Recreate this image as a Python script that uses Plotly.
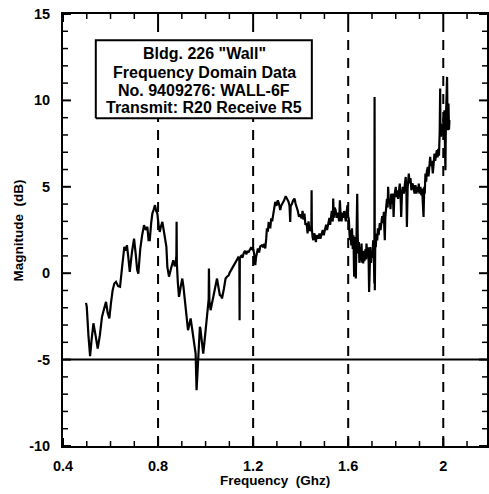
import plotly.graph_objects as go

# Swept-frequency magnitude response through the wall (GHz, dB)
freq_ghz = [
    0.497, 0.500, 0.507, 0.514, 0.520, 0.528, 0.537, 0.546, 0.555, 0.564,
    0.572, 0.581, 0.588, 0.595, 0.602, 0.609, 0.616, 0.623, 0.632, 0.640,
    0.649, 0.658, 0.664, 0.669, 0.675, 0.681, 0.690, 0.699, 0.706, 0.712,
    0.717, 0.725, 0.733, 0.741, 0.748, 0.755, 0.760, 0.765, 0.771, 0.776,
    0.782, 0.787, 0.792, 0.797, 0.802, 0.807, 0.812, 0.818, 0.826, 0.835,
    0.839, 0.846, 0.855, 0.864, 0.870, 0.874, 0.877, 0.878, 0.879, 0.883,
    0.888, 0.895, 0.902, 0.907, 0.912, 0.919, 0.926, 0.931, 0.937, 0.942,
    0.948, 0.953, 0.958, 0.962, 0.964, 0.967, 0.971, 0.976, 0.978, 0.981,
    0.985, 0.990, 0.995, 1.000, 1.007, 1.013, 1.014, 1.016, 1.021, 1.028,
    1.035, 1.041, 1.048, 1.054, 1.060, 1.065, 1.069, 1.077, 1.084, 1.090,
    1.097, 1.102, 1.107, 1.113, 1.118, 1.125, 1.132, 1.137, 1.142, 1.143,
    1.144, 1.150, 1.155, 1.160, 1.166, 1.171, 1.176, 1.181, 1.186, 1.190,
    1.195, 1.199, 1.204, 1.207, 1.209, 1.212, 1.216, 1.220, 1.225, 1.230,
    1.237, 1.243, 1.247, 1.251, 1.255, 1.258, 1.262, 1.265, 1.268, 1.272,
    1.276, 1.280, 1.284, 1.289, 1.293, 1.298, 1.304, 1.309, 1.314, 1.318,
    1.324, 1.330, 1.337, 1.343, 1.349, 1.353, 1.356, 1.358, 1.363, 1.368,
    1.374, 1.379, 1.383, 1.388, 1.393, 1.398, 1.404, 1.408, 1.412, 1.416,
    1.420, 1.425, 1.429, 1.433, 1.437, 1.440, 1.445, 1.446, 1.447, 1.450,
    1.453, 1.457, 1.460, 1.464, 1.468, 1.474, 1.479, 1.483, 1.488, 1.493,
    1.497, 1.502, 1.507, 1.511, 1.516, 1.521, 1.524, 1.527, 1.531, 1.535,
    1.537, 1.539, 1.543, 1.547, 1.551, 1.555, 1.558, 1.562, 1.565, 1.568,
    1.572, 1.576, 1.580, 1.583, 1.586, 1.590, 1.594, 1.597, 1.600, 1.603,
    1.605, 1.607, 1.610, 1.613, 1.616, 1.619, 1.622, 1.625, 1.627, 1.628,
    1.631, 1.632, 1.634, 1.635, 1.638, 1.640, 1.642, 1.645, 1.647, 1.649,
    1.652, 1.654, 1.656, 1.659, 1.661, 1.663, 1.666, 1.668, 1.670, 1.673,
    1.675, 1.677, 1.680, 1.683, 1.686, 1.688, 1.690, 1.693, 1.696, 1.699,
    1.702, 1.705, 1.708, 1.710, 1.711, 1.712, 1.714, 1.716, 1.719, 1.722,
    1.725, 1.728, 1.730, 1.733, 1.736, 1.740, 1.743, 1.746, 1.750, 1.752,
    1.754, 1.756, 1.760, 1.763, 1.766, 1.768, 1.771, 1.775, 1.778, 1.781,
    1.783, 1.786, 1.789, 1.791, 1.794, 1.797, 1.800, 1.803, 1.806, 1.810,
    1.813, 1.817, 1.820, 1.823, 1.826, 1.830, 1.834, 1.838, 1.842, 1.845,
    1.847, 1.850, 1.853, 1.855, 1.858, 1.862, 1.866, 1.870, 1.875, 1.879,
    1.883, 1.887, 1.891, 1.894, 1.897, 1.900, 1.904, 1.908, 1.911, 1.914,
    1.917, 1.920, 1.922, 1.925, 1.928, 1.931, 1.935, 1.938, 1.942, 1.945,
    1.948, 1.952, 1.956, 1.959, 1.963, 1.966, 1.970, 1.973, 1.976, 1.979,
    1.982, 1.985, 1.987, 1.988, 1.990, 1.992, 1.995, 1.998, 2.001, 2.003,
    2.005, 2.007, 2.009, 2.011, 2.013, 2.015, 2.016, 2.018, 2.020, 2.022,
    2.024, 2.026,
]
magnitude_db = [
    -1.72, -1.95, -3.6, -4.80, -3.9, -2.90, -3.6, -4.36, -3.6, -2.53,
    -2.1, -1.66, -2.3, -2.62, -1.7, -0.98, -0.6, -0.50, -0.75, -0.79,
    0.4, 1.52, 1.3, 1.62, 0.9, 0.08, 1.2, 2.00, 1.1, 0.2,
    -0.02, 1.4, 2.2, 2.78, 2.5, 2.68, 1.91, 1.91, 2.9, 3.45,
    3.7, 3.94, 3.6, 3.45, 2.8, 2.39, 2.7, 2.97, 2.3, 1.52,
    0.37, -0.20, 0.3, 0.75, 0.4, 0.56, 1.0, 2.97, 0.6, -0.5,
    -1.37, -0.8, -0.31, -0.8, -1.46, -2.4, -3.30, -3.0, -2.62, -3.1,
    -3.68, -4.2, -4.65, -6.77, -6.2, -5.61, -4.4, -3.10, -3.2, -3.68,
    -4.3, -4.65, -4.0, -3.30, -2.2, -1.5, 0.27, -1.6, -2.14, -1.7,
    -1.27, -0.8, -0.31, -0.8, -1.27, -1.3, -1.46, -0.9, -0.31, -0.2,
    -0.12, 0.05, 0.17, 0.3, 0.46, 0.6, 0.75, 0.9, 0.8, -2.72,
    0.9, 1.0, 0.9, 1.14, 1.3, 1.1, 1.25, 1.23, 1.33, 1.45,
    1.4, 1.52, 1.14, 0.7, 0.46, 0.9, 1.3, 1.43, 1.2, 1.55,
    1.62, 1.5, 1.7, 1.43, 2.0, 2.59, 2.4, 2.9, 2.88, 2.6,
    3.17, 3.0, 3.4, 3.9, 4.13, 3.9, 4.22, 4.0, 3.65, 3.9,
    4.03, 4.2, 4.46, 4.3, 4.13, 3.9, 2.97, 3.9, 4.0, 4.2,
    4.32, 4.0, 3.84, 3.6, 3.26, 3.4, 3.17, 3.6, 3.1, 3.45,
    2.8, 2.88, 2.3, 3.0, 2.5, 2.49, 2.7, 4.80, 2.6, 2.1,
    1.91, 2.3, 2.20, 1.8, 2.2, 2.00, 2.3, 2.0, 2.20, 2.5,
    2.2, 2.49, 2.8, 2.5, 2.88, 3.2, 2.8, 3.07, 3.6, 3.0,
    4.32, 3.2, 3.8, 3.65, 3.2, 3.5, 3.36, 3.0, 4.22, 3.4,
    3.0, 3.5, 3.2, 3.6, 3.36, 3.0, 3.6, 3.94, 3.3, 3.07,
    2.4, 1.91, 2.5, 1.6, 2.6, 1.4, 2.2, -0.21, 2.1, 1.91,
    1.2, -0.31, 2.0, 3.26, 4.6, 2.2, 1.14, 1.8, 0.6, 0.75,
    1.5, 0.9, 1.72, 0.6, 1.2, 0.56, 1.3, 0.7, 0.94, 1.4,
    0.8, 1.72, 0.9, 1.5, 0.7, -1.08, 0.8, 1.52, 0.6, 1.2,
    0.9, 1.91, 1.0, -0.6, 10.2, -0.98, 2.0, 1.5, 2.30, 1.9,
    2.6, 2.2, 2.49, 2.9, 2.5, 3.07, 3.3, 2.9, 3.55, 2.6,
    1.91, 3.2, 3.84, 4.3, 3.8, 5.0, 4.1, 4.22, 3.7, 4.6,
    4.0, 4.61, 4.2, 3.26, 4.4, 4.7, 5.0, 4.4, 4.8, 4.3,
    4.9, 5.19, 4.6, 3.26, 4.5, 5.0, 4.6, 5.3, 5.57, 4.6,
    2.68, 4.9, 5.4, 5.77, 5.2, 5.5, 4.8, 5.2, 5.00, 4.6,
    5.1, 4.6, 5.0, 4.7, 5.19, 4.6, 5.0, 4.5, 4.9, 4.2,
    3.26, 5.0, 4.6, 5.77, 5.3, 5.9, 6.15, 5.6, 6.4, 6.73,
    6.2, 6.5, 5.77, 6.6, 6.92, 6.5, 7.0, 7.12, 6.7, 7.2,
    6.8, 8.2, 10.69, 8.4, 8.66, 7.9, 8.5, 8.0, 9.0, 8.3,
    9.43, 7.5, 5.96, 8.8, 9.5, 10.0, 11.36, 8.8, 8.27, 9.82,
    8.3, 8.85,
]

x_tick_vals = [0.4, 0.8, 1.2, 1.6, 2.0]
x_tick_text = ["0.4", "0.8", "1.2", "1.6", "2"]
y_tick_vals = [-10, -5, 0, 5, 10, 15]
y_tick_text = ["-10", "-5", "0", "5", "10", "15"]

# Reference markers: dashed frequency markers and the -5 dB level
marker_freqs = [0.8, 1.2, 1.6, 2.0]
reference_level_db = -5

info_lines = [
    'Bldg. 226 "Wall"',
    "Frequency Domain Data",
    "No. 9409276: WALL-6F",
    "Transmit: R20 Receive R5",
]

FONT = "Liberation Sans, Arial, Helvetica, sans-serif"
X_RANGE = [0.4, 2.184]
Y_RANGE = [-10, 15]

# Tick lengths expressed in axis units (about 8 px major, 5 px minor)
X_MAJOR_LEN, X_MINOR_LEN = 0.0335, 0.021
Y_MAJOR_LEN, Y_MINOR_LEN = 0.463, 0.29

x_minor_vals = [round(0.4 + 0.1 * i, 2) for i in range(18)]
x_minor_vals = [v for v in x_minor_vals if v not in x_tick_vals]
y_minor_vals = [v for v in range(-10, 16) if v not in y_tick_vals]


def tick_segments(xvals, yvals, x_len, y_len):
    """Inward tick stubs on all four sides, as one broken polyline."""
    xs, ys = [], []
    for v in xvals:
        xs += [v, v, None, v, v, None]
        ys += [Y_RANGE[0], Y_RANGE[0] + y_len, None, Y_RANGE[1], Y_RANGE[1] - y_len, None]
    for v in yvals:
        xs += [X_RANGE[0], X_RANGE[0] + x_len, None, X_RANGE[1], X_RANGE[1] - x_len, None]
        ys += [v, v, None, v, v, None]
    return xs, ys


fig = go.Figure()

# Dashed frequency markers spanning the full height
for f in marker_freqs:
    fig.add_trace(go.Scatter(
        x=[f, f], y=Y_RANGE, mode="lines",
        line=dict(color="black", width=2, dash="10px,8px"),
        showlegend=False, hoverinfo="skip",
    ))
# Solid -5 dB reference level
fig.add_trace(go.Scatter(
    x=X_RANGE, y=[reference_level_db, reference_level_db], mode="lines",
    line=dict(color="black", width=2), showlegend=False, hoverinfo="skip",
))
# Major and minor tick marks
mx, my = tick_segments(x_tick_vals, y_tick_vals, X_MAJOR_LEN, Y_MAJOR_LEN)
fig.add_trace(go.Scatter(x=mx, y=my, mode="lines", line=dict(color="black", width=2),
                         showlegend=False, hoverinfo="skip"))
nx, ny = tick_segments(x_minor_vals, y_minor_vals, X_MINOR_LEN, Y_MINOR_LEN)
fig.add_trace(go.Scatter(x=nx, y=ny, mode="lines", line=dict(color="black", width=1.5),
                         showlegend=False, hoverinfo="skip"))
# Measured response
fig.add_trace(go.Scatter(
    x=freq_ghz, y=magnitude_db, mode="lines",
    line=dict(color="black", width=2.2),
    showlegend=False, hoverinfo="skip",
))
# Caption box (white fill hides the marker line behind it)
box_x = [0.538, 1.447, 1.447, 0.538, 0.538]
box_y = [8.97, 8.97, 13.48, 13.48, 8.97]
fig.add_trace(go.Scatter(
    x=box_x, y=box_y, mode="lines", fill="toself", fillcolor="white",
    line=dict(color="black", width=2), showlegend=False, hoverinfo="skip",
))

annotations = []
line_y_px = [54, 72, 90, 107]
for text, py in zip(info_lines, line_y_px):
    annotations.append(dict(
        text=text, xref="paper", yref="paper",
        x=0.333, y=(446 - py) / 432, xanchor="center", yanchor="middle",
        showarrow=False,
        font=dict(family=FONT, size=16, color="black", weight="bold"),
    ))
annotations.append(dict(
    text="Magnitude  (dB)", xref="paper", yref="paper",
    x=-0.105, y=0.5, xanchor="center", yanchor="middle", textangle=-90,
    showarrow=False, font=dict(family=FONT, size=13.5, color="black", weight="bold"),
))
annotations.append(dict(
    text="Frequency  (Ghz)", xref="paper", yref="paper",
    x=0.5, y=-0.081, xanchor="center", yanchor="middle",
    showarrow=False, font=dict(family=FONT, size=13.5, color="black", weight="bold"),
))

axis_common = dict(
    showgrid=False, zeroline=False, showline=True, linecolor="black", linewidth=2,
    mirror=True, ticks="",
    tickfont=dict(family=FONT, size=14.5, color="black", weight="bold"),
)

fig.update_layout(
    width=489, height=494,
    margin=dict(l=63, r=0, t=14, b=48),
    paper_bgcolor="white", plot_bgcolor="white",
    xaxis=dict(
        range=X_RANGE, tickmode="array", tickvals=x_tick_vals, ticktext=x_tick_text,
        ticklabelstandoff=6, **axis_common,
    ),
    yaxis=dict(
        range=Y_RANGE, tickmode="array", tickvals=y_tick_vals, ticktext=y_tick_text,
        ticklabelstandoff=8, **axis_common,
    ),
    annotations=annotations,
    showlegend=False,
)

fig.write_html("out.html")
